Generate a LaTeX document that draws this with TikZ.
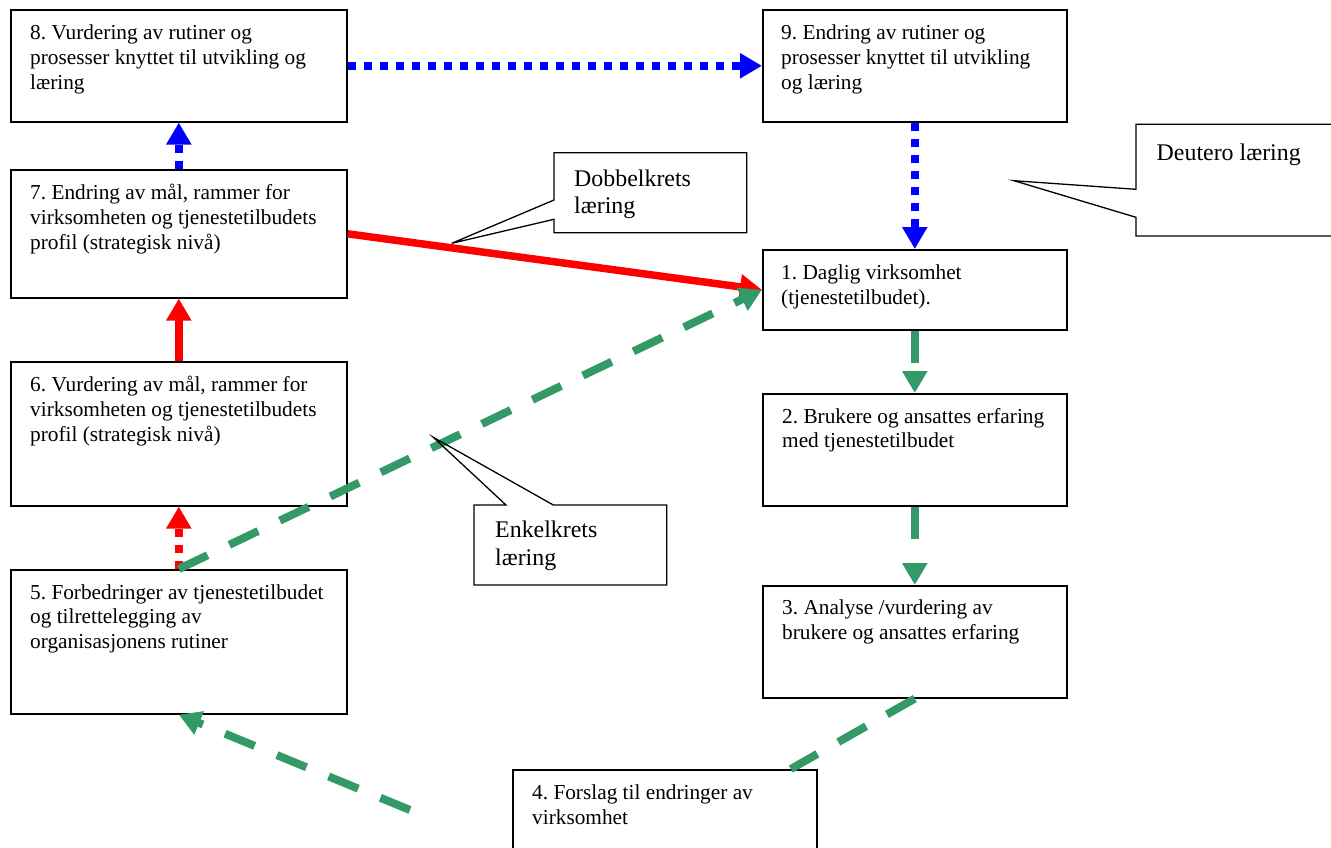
\documentclass[tikz,border=0pt]{standalone}
\usepackage{fontspec}
\setmainfont{Liberation Serif}
\usetikzlibrary{arrows.meta,calc}

% text block whose first baseline is the node's base
\newcommand{\stagetext}[1]{\begin{minipage}[t]{330pt}\frenchspacing#1\end{minipage}}

\tikzset{
  stage/.style={draw=black, line width=1.6pt, rectangle, inner sep=0pt,
    anchor=north west},
  stagefont/.style={inner sep=0pt, anchor=base west,
    font=\fontsize{21.3pt}{24.8pt}\selectfont},
  calloutfont/.style={inner sep=0pt, anchor=base west,
    font=\fontsize{23.9pt}{27.5pt}\selectfont},
  callout/.style={draw=black, line width=1.3pt, line join=miter},
  >={Triangle[length=22pt,width=24pt]},
  bluedot/.style={draw=blue, line width=8pt, dash pattern=on 8pt off 8pt, ->},
  redline/.style={draw=red, line width=8pt, ->},
  reddot/.style={draw=red, line width=8pt, dash pattern=on 8pt off 8pt, ->},
  greendash/.style={draw=loopgreen, line width=8pt, dash pattern=on 32pt off 24pt},
}
\definecolor{loopgreen}{RGB}{51,153,102}

\begin{document}
\begin{tikzpicture}[x=1pt,y=-1pt]
\path[use as bounding box] (0,0) rectangle (1331,847);
\clip (0,0) rectangle (1331,847);

% left column
\node[stage, minimum width=336pt, minimum height=112pt] (b8) at (10,9) {};
\node[stage, minimum width=336pt, minimum height=128pt] (b7) at (10,169) {};
\node[stage, minimum width=336pt, minimum height=144pt] (b6) at (10,361) {};
\node[stage, minimum width=336pt, minimum height=144pt] (b5) at (10,569) {};
% right column
\node[stage, minimum width=304pt, minimum height=112pt] (b9) at (762,9) {};
\node[stage, minimum width=304pt, minimum height=80pt]  (b1) at (762,249) {};
\node[stage, minimum width=304pt, minimum height=112pt] (b2) at (762,393) {};
\node[stage, minimum width=304pt, minimum height=112pt] (b3) at (762,585) {};
\node[stage, minimum width=304pt, minimum height=112pt] (b4) at (512,769) {};

\node[stagefont] (t8) at ($(b8.north west)+(20,30.5)$)
  {\stagetext{8. Vurdering av rutiner og\\prosesser knyttet til utvikling og\\læring}};
\node[stagefont] (t7) at ($(b7.north west)+(20,30.5)$)
  {\stagetext{7. Endring av mål, rammer for\\virksomheten og tjenestetilbudets\\profil (strategisk nivå)}};
\node[stagefont] (t6) at ($(b6.north west)+(20,30.5)$)
  {\stagetext{6. Vurdering av mål, rammer for\\virksomheten og tjenestetilbudets\\profil (strategisk nivå)}};
\node[stagefont] (t5) at ($(b5.north west)+(20,30)$)
  {\stagetext{5. Forbedringer av tjenestetilbudet\\og tilrettelegging av\\organisasjonens rutiner}};
\node[stagefont] (t9) at ($(b9.north west)+(19,30.5)$)
  {\stagetext{9. Endring av rutiner og\\prosesser knyttet til utvikling\\og læring}};
\node[stagefont] (t1) at ($(b1.north west)+(19,30.5)$)
  {\stagetext{1. Daglig virksomhet\\(tjenestetilbudet).}};
\node[stagefont] (t2) at ($(b2.north west)+(20,30)$)
  {\stagetext{2. Brukere og ansattes erfaring\\med tjenestetilbudet}};
\node[stagefont] (t3) at ($(b3.north west)+(20,29.5)$)
  {\stagetext{3. Analyse /vurdering av\\brukere og ansattes erfaring}};
\node[stagefont] (t4) at ($(b4.north west)+(20,30.5)$)
  {\stagetext{4. Forslag til endringer av\\virksomhet}};

% deutero loop (blue)
\draw[bluedot] (b8.east) -- (b9.west);
\draw[bluedot] (b7.north) -- (b8.south);
\draw[bluedot] (b9.south) -- (b1.north);

% double loop (red)
\draw[redline, line width=7.5pt] (b7.east) -- (b1.west);
\draw[redline] (b6.north) -- (b7.south);
\draw[reddot] (b5.north) -- (b6.south);

% single loop (green)
\coordinate (g4) at (410,810);
\draw[greendash, ->] (b5.north) -- (b1.west);
\draw[greendash, ->] (b1.south) -- (b2.north);
\draw[greendash, ->] (b2.south) -- (b3.north);
\draw[greendash] (b3.south) -- ([xshift=126pt]b4.north);
\draw[greendash, ->] (g4) -- (b5.south);

% callouts
\coordinate (dtip) at (451.7,243.3);
\draw[callout] (554,152.7) -- (746.7,152.7) -- (746.7,232.7) -- (554,232.7)
  -- (554,219.3) -- (dtip) -- (554,200) -- cycle;
\node[calloutfont] (dtext) at (574,186) {\stagetext{Dobbelkrets\\læring}};

\coordinate (etip) at (433.3,437.3);
\draw[callout] (474,505) -- (506,505) -- (etip) -- (553.3,505) -- (666.7,505)
  -- (666.7,585) -- (474,585) -- cycle;
\node[calloutfont] (etext) at (495,537.5) {\stagetext{Enkelkrets\\læring}};

\coordinate (utip) at (1014,180.7);
\draw[callout] (1136,124.3) -- (1345,124.3) -- (1345,236) -- (1136,236)
  -- (1136,217.3) -- (utip) -- (1136,189.3) -- cycle;
\node[calloutfont] (utext) at (1156.5,160.5) {\stagetext{Deutero læring}};
\end{tikzpicture}
\end{document}
